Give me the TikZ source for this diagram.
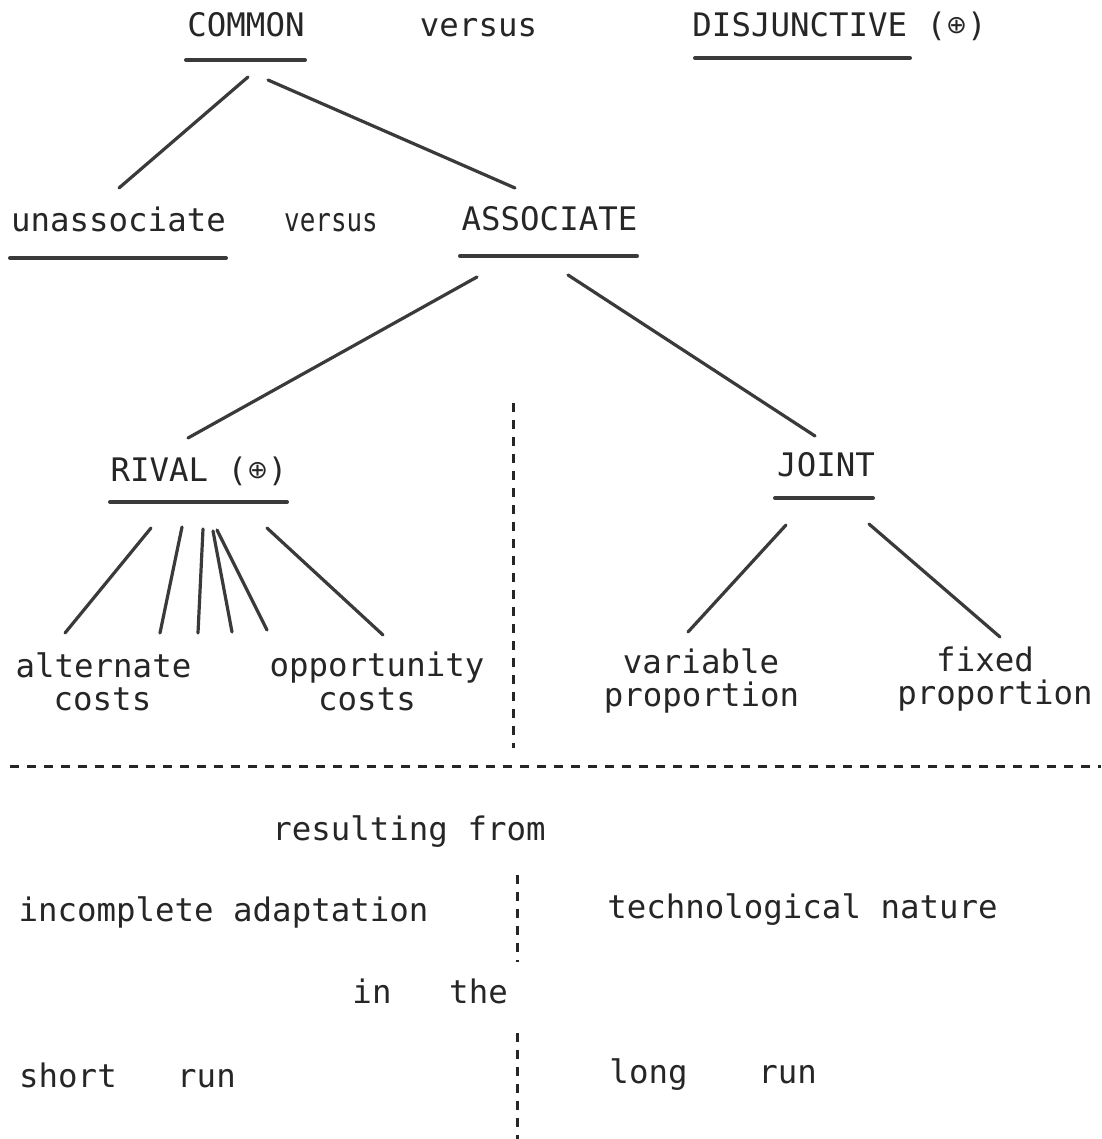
\documentclass[tikz,border=0pt]{standalone}
\usepackage{fontspec}
\usepackage{graphicx}
\setmonofont{DejaVu Sans Mono}
\newfontfamily\symf{DejaVu Sans}
\definecolor{ink}{HTML}{262626}
\definecolor{rule}{HTML}{3A3A3A}
\newcommand{\opl}{{\symf\fontsize{25}{25}\selectfont\raisebox{0.12em}{⊕}}}
\tikzset{
  lbl/.style={anchor=base, inner sep=0pt, text=ink, font=\ttfamily\fontsize{32.4}{36}\selectfont},
  uline/.style={line width=4pt, draw=rule, line cap=round},
  conn/.style={line width=3.2pt, draw=rule, line cap=round},
  dashln/.style={line width=3pt, draw=ink, dash pattern=on 9pt off 8pt},
}
\begin{document}
\begin{tikzpicture}[x=1pt,y=-1pt]
\path[use as bounding box, fill=white] (0,0) rectangle (1101,1139);

% top row
\node[lbl] (common) at (246,37) {COMMON};
\node[lbl] (vs1) at (478.5,37) {versus};
\node[lbl] (disj) at (839.5,37) {DISJUNCTIVE (\opl)};
\draw[uline] (186,60) -- (305,60);
\draw[uline] (695,58) -- (910,58);

% second row
\node[lbl] (unassoc) at (118.5,232) {unassociate};
\node[lbl] (vs2) at (331,232) {\scalebox{0.8}[1]{versus}};
\node[lbl] (assoc) at (549.5,231) {ASSOCIATE};
\draw[uline] (10,258) -- (226,258);
\draw[uline] (460,256) -- (637,256);

\coordinate (c1a) at (248,77);  \coordinate (c1b) at (119,188);
\coordinate (c2a) at (268,80);  \coordinate (c2b) at (515,188);
\draw[conn] (c1a) -- (c1b);
\draw[conn] (c2a) -- (c2b);

% third row
\node[lbl] (rival) at (199,481) {RIVAL (\opl)};
\node[lbl] (joint) at (826,476) {JOINT};
\draw[uline] (110,502) -- (287,502);
\draw[uline] (775,498) -- (873,498);

\coordinate (a1) at (477,277); \coordinate (a1e) at (188,438);
\coordinate (a2) at (568,275); \coordinate (a2e) at (815,436);
\draw[conn] (a1) -- (a1e);
\draw[conn] (a2) -- (a2e);

% rival fan
\coordinate (r1) at (151,528); \coordinate (r1e) at (65,633);
\coordinate (r2) at (182,527); \coordinate (r2e) at (160,633);
\coordinate (r3) at (203,529); \coordinate (r3e) at (198,633);
\coordinate (r4) at (213,531); \coordinate (r4e) at (232,632);
\coordinate (r5) at (217,530); \coordinate (r5e) at (267,630);
\coordinate (r6) at (267,528); \coordinate (r6e) at (383,635);
\foreach \s in {1,...,6} \draw[conn] (r\s) -- (r\s e);

% joint fan
\coordinate (j1) at (786,525); \coordinate (j1e) at (688,632);
\coordinate (j2) at (869,524); \coordinate (j2e) at (1000,637);
\draw[conn] (j1) -- (j1e);
\draw[conn] (j2) -- (j2e);

% leaves
\node[lbl] (alt) at (103.5,677) {alternate};
\node[lbl] (altc) at (102.5,710) {costs};
\node[lbl] (opp) at (377,676) {opportunity};
\node[lbl] (oppc) at (367,710) {costs};
\node[lbl] (var) at (701,673) {variable};
\node[lbl] (varp) at (701.5,706) {proportion};
\node[lbl] (fix) at (985,671) {fixed};
\node[lbl] (fixp) at (995,704) {proportion};

% dashed separators
\coordinate (v1a) at (513,403); \coordinate (v1b) at (513,748);
\draw[dashln] (v1a) -- (v1b);
\coordinate (h1a) at (10,766); \coordinate (h1b) at (1101,766);
\draw[dashln] (h1a) -- (h1b);
\coordinate (v2a) at (517,875); \coordinate (v2b) at (517,962);
\draw[dashln] (v2a) -- (v2b);
\coordinate (v3a) at (517,1033); \coordinate (v3b) at (517,1139);
\draw[dashln] (v3a) -- (v3b);

% lower text
\node[lbl] (res) at (409,840) {resulting from};
\node[lbl] (inc) at (223.5,921) {incomplete adaptation};
\node[lbl] (tech) at (802.5,918) {technological nature};
\node[lbl] (in) at (372,1003) {in};
\node[lbl] (the) at (478.5,1003) {the};
\node[lbl] (short) at (68,1087) {short};
\node[lbl] (srun) at (206.5,1087) {run};
\node[lbl] (long) at (648.5,1083) {long};
\node[lbl] (lrun) at (787.5,1083) {run};
\end{tikzpicture}
\end{document}
